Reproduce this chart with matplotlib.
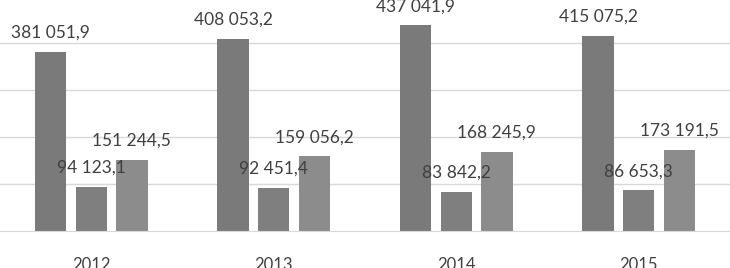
import matplotlib.pyplot as plt
import numpy as np

years = ['2012', '2013', '2014', '2015']
series1 = [381051.9, 408053.2, 437041.9, 415075.2]
series2 = [94123.1, 92451.4, 83842.2, 86653.3]
series3 = [151244.5, 159056.2, 168245.9, 173191.5]

colors = ['#7a7a7a', '#7f7f7f', '#8c8c8c']


def fmt(v):
    s = f"{v:,.1f}"
    return s.replace(',', ' ').replace('.', ',')


plt.rcParams['font.family'] = ['Lato', 'DejaVu Sans']

fig = plt.figure(figsize=(7.3, 2.68), dpi=100)
ax = fig.add_axes([0, 37 / 268, 1, 231 / 268])

x = np.arange(len(years))
width = 0.1726
step = 0.222
for i, vals in enumerate([series1, series2, series3]):
    pos = x + (i - 1) * step
    ax.bar(pos, vals, width=width, color=colors[i], zorder=2)
    for px, v in zip(pos, vals):
        ax.annotate(fmt(v), (px, v), xytext=(0, 19), textcoords='offset pixels',
                    ha='center', va='center', fontsize=12.5, color='#404040',
                    annotation_clip=False)

ax.set_xlim(-0.5, 3.5)
ax.set_ylim(0, 491000)
ax.set_yticks([100000, 200000, 300000, 400000])
ax.yaxis.grid(True, color='#d9d9d9', linewidth=1, zorder=0)
ax.set_axisbelow(True)
ax.tick_params(axis='y', left=False, labelleft=False)
ax.set_xticks(x)
ax.set_xticklabels(years, fontsize=12, color='#404040')
ax.tick_params(axis='x', length=0, pad=19)
for side in ['top', 'left', 'right']:
    ax.spines[side].set_visible(False)
ax.spines['bottom'].set_color('#d9d9d9')

fig.savefig('out.png', dpi=100)
